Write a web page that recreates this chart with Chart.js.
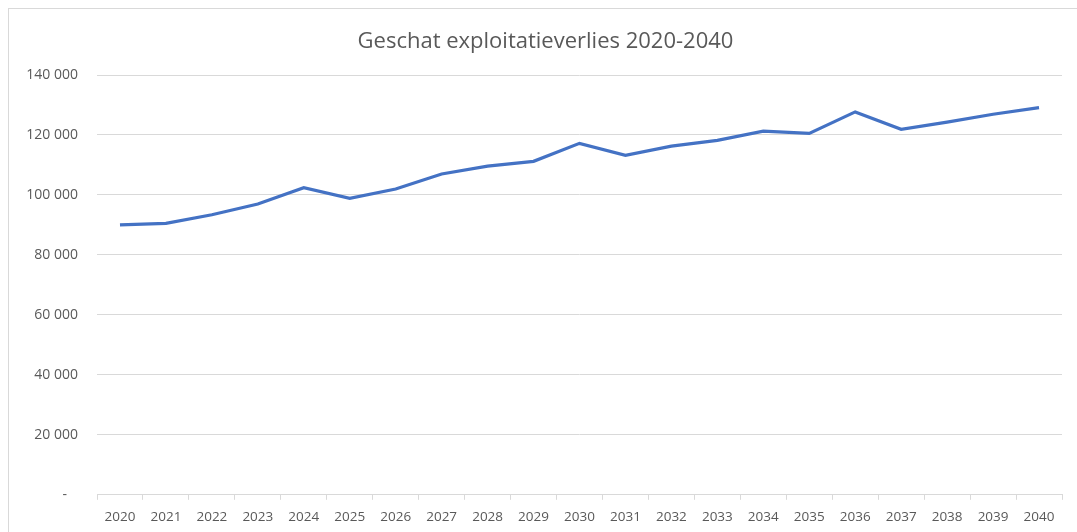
<!DOCTYPE html>
<html>
<head>
<meta charset="utf-8">
<script src="https://cdn.jsdelivr.net/npm/chart.js@4"></script>
<style>
    body { margin: 0; overflow: hidden; background: #fff; }
    .chart-box {
        position: absolute;
        left: 8px;
        top: 8px;
        width: 1073px;
        height: 540px;
        border: 1px solid #d9d9d9;
    }
    .chart-title {
        position: absolute;
        left: 0;
        top: 26px;
        width: 1091px;
        text-align: center;
        font: 22px/26px "Open Sans", "Liberation Sans", sans-serif;
        color: #595959;
    }
</style>
</head>
<body>
<div class="chart-box"><canvas id="chart" width="1073" height="540"></canvas></div>
<div class="chart-title">Geschat exploitatieverlies 2020-2040</div>
<script>
const years = ['2020', '2021', '2022', '2023', '2024', '2025', '2026', '2027', '2028', '2029', '2030',
    '2031', '2032', '2033', '2034', '2035', '2036', '2037', '2038', '2039', '2040'];
const verlies = [90000, 90500, 93400, 97000, 102400, 98900, 102000, 107000, 109600, 111200, 117200,
    113200, 116300, 118200, 121300, 120500, 127700, 121900, 124300, 126900, 129100];
const yTicks = [0, 20000, 40000, 60000, 80000, 100000, 120000, 140000];

const textColor = '#595959';
const fontFamily = '"Open Sans", "Liberation Sans", sans-serif';

// excel-style: "140 000", zero shown as "-"
const fmt = v => v === 0 ? '-   ' : String(v).replace(/\B(?=(\d{3})+(?!\d))/g, ' ');

new Chart(document.getElementById('chart').getContext('2d'), {
    type: 'line',
    data: {
        labels: years,
        datasets: [{
            label: 'Exploitatieverlies',
            data: verlies,
            borderColor: '#4472C4',
            borderWidth: 3.2,
            pointRadius: 0,
            tension: 0,
            fill: false
        }]
    },
    options: {
        responsive: false,
        animation: false,
        layout: { padding: { left: 0, right: 20, top: 66, bottom: 15 } },
        scales: {
            x: {
                offset: true,
                grid: {
                    offset: true,
                    drawOnChartArea: false,
                    drawTicks: true,
                    tickLength: 5,
                    color: '#d9d9d9'
                },
                border: { color: '#d9d9d9', width: 1 },
                ticks: {
                    color: textColor,
                    font: { family: fontFamily, size: 13.5 },
                    padding: 9,
                    maxRotation: 0,
                    autoSkip: false
                }
            },
            y: {
                min: 0,
                max: 140000,
                afterFit: scale => { scale.width = 88; },
                afterBuildTicks: scale => { scale.ticks = yTicks.map(v => ({ value: v })); },
                grid: { color: '#d9d9d9', drawTicks: false, lineWidth: 1 },
                border: { display: false },
                ticks: {
                    color: textColor,
                    font: { family: fontFamily, size: 14 },
                    padding: 19,
                    callback: v => fmt(v)
                }
            }
        },
        plugins: {
            legend: { display: false },
            tooltip: { enabled: false },
            title: { display: false }
        }
    }
});
</script>
</body>
</html>
